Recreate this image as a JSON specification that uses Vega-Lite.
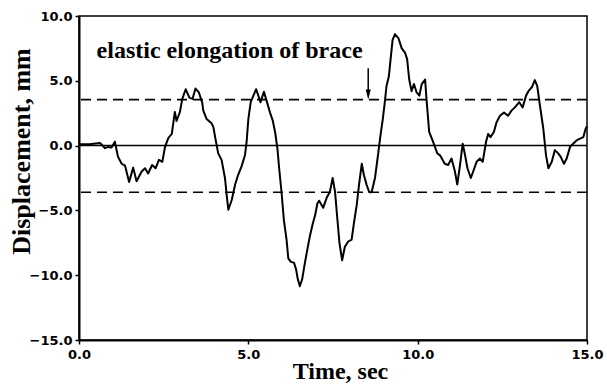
{
  "$schema": "https://vega.github.io/schema/vega-lite/v6.json",
  "width": 508,
  "height": 324,
  "autosize": {"type": "none"},
  "padding": {"left": 79, "top": 16, "right": 20, "bottom": 49},
  "background": "white",
  "config": {
    "view": {"stroke": "black", "strokeWidth": 1.5},
    "text": {"font": "Liberation Serif"},
    "axis": {
      "grid": false,
      "domainColor": "black",
      "domainWidth": 2,
      "tickColor": "black",
      "tickWidth": 1.5,
      "tickSize": 4,
      "labelFont": "DejaVu Sans",
      "labelFontWeight": "bold",
      "labelFontSize": 13,
      "labelColor": "black",
      "titleFont": "Liberation Serif",
      "titleFontWeight": "bold",
      "titleColor": "black"
    }
  },
  "layer": [
    {
      "data": {"values": [{"level": 0}]},
      "mark": {"type": "rule", "color": "black", "strokeWidth": 1.5},
      "encoding": {"y": {"field": "level", "type": "quantitative", "scale": {"domain": [-15, 10]}}}
    },
    {
      "data": {"values": [{"level": 3.55}, {"level": -3.6}]},
      "mark": {"type": "rule", "color": "black", "strokeWidth": 1.6, "strokeDash": [10, 6]},
      "encoding": {"y": {"field": "level", "type": "quantitative"}}
    },
    {
      "data": {"values": [
        {"t": 0, "v": 0.1}, {"t": 0.3, "v": 0.1}, {"t": 0.62, "v": 0.2}, {"t": 0.77, "v": -0.2}, {"t": 0.86, "v": -0.1}, {"t": 0.96, "v": -0.15}, {"t": 1.06, "v": 0.3}, {"t": 1.15, "v": -0.85}, {"t": 1.26, "v": -1.4}, {"t": 1.36, "v": -1.55}, {"t": 1.48, "v": -2.8}, {"t": 1.6, "v": -1.7}, {"t": 1.7, "v": -2.75}, {"t": 1.85, "v": -2.0}, {"t": 1.95, "v": -1.75}, {"t": 2.04, "v": -2.15}, {"t": 2.16, "v": -1.5}, {"t": 2.26, "v": -1.75}, {"t": 2.36, "v": -1.1}, {"t": 2.46, "v": -1.25}, {"t": 2.54, "v": -0.1}, {"t": 2.64, "v": 0.6}, {"t": 2.74, "v": 0.9}, {"t": 2.83, "v": 2.6}, {"t": 2.88, "v": 1.9}, {"t": 2.98, "v": 2.6}, {"t": 3.05, "v": 3.6}, {"t": 3.15, "v": 4.35}, {"t": 3.26, "v": 3.7}, {"t": 3.35, "v": 3.6}, {"t": 3.44, "v": 4.4}, {"t": 3.54, "v": 4.1}, {"t": 3.64, "v": 3.3},
        {"t": 3.67, "v": 2.7}, {"t": 3.77, "v": 2.05}, {"t": 3.92, "v": 1.7}, {"t": 3.97, "v": 1.4}, {"t": 4.02, "v": 0.65}, {"t": 4.11, "v": -0.6}, {"t": 4.21, "v": -1.1}, {"t": 4.31, "v": -2.5}, {"t": 4.36, "v": -3.8}, {"t": 4.41, "v": -4.95}, {"t": 4.51, "v": -4.2}, {"t": 4.61, "v": -3.0}, {"t": 4.7, "v": -2.25}, {"t": 4.8, "v": -1.6}, {"t": 4.9, "v": -0.75}, {"t": 4.95, "v": 0.3}, {"t": 5.0, "v": 2.05}, {"t": 5.07, "v": 3.35}, {"t": 5.15, "v": 3.85}, {"t": 5.23, "v": 4.35}, {"t": 5.36, "v": 3.35}, {"t": 5.46, "v": 4.15}, {"t": 5.54, "v": 3.45}, {"t": 5.64, "v": 2.55}, {"t": 5.72, "v": 1.95}, {"t": 5.79, "v": 1.05}, {"t": 5.86, "v": -0.25}, {"t": 5.91, "v": -1.75}, {"t": 5.98, "v": -3.6}, {"t": 6.05, "v": -5.75}, {"t": 6.13, "v": -7.3}, {"t": 6.18, "v": -8.7}, {"t": 6.25, "v": -8.95}, {"t": 6.35, "v": -9.05}, {"t": 6.41, "v": -9.55}, {"t": 6.46, "v": -10.3}, {"t": 6.52, "v": -10.85}, {"t": 6.59, "v": -10.3}, {"t": 6.67, "v": -9.05}, {"t": 6.74, "v": -8.05}, {"t": 6.82, "v": -6.95}, {"t": 6.9, "v": -6.05}, {"t": 6.97, "v": -5.4}, {"t": 7.04, "v": -4.45}, {"t": 7.09, "v": -4.25},
        {"t": 7.21, "v": -4.8}, {"t": 7.31, "v": -4.05}, {"t": 7.41, "v": -3.55}, {"t": 7.49, "v": -2.5}, {"t": 7.56, "v": -3.55}, {"t": 7.63, "v": -5.7}, {"t": 7.69, "v": -7.5}, {"t": 7.77, "v": -8.85}, {"t": 7.85, "v": -7.8}, {"t": 7.95, "v": -7.4}, {"t": 8.05, "v": -7.25}, {"t": 8.12, "v": -5.95}, {"t": 8.2, "v": -4.6}, {"t": 8.27, "v": -3.0}, {"t": 8.35, "v": -1.4}, {"t": 8.41, "v": -2.25}, {"t": 8.49, "v": -3.0}, {"t": 8.57, "v": -3.6}, {"t": 8.64, "v": -3.6}, {"t": 8.74, "v": -2.5}, {"t": 8.84, "v": -0.5}, {"t": 8.89, "v": 0.55}, {"t": 8.97, "v": 2.05}, {"t": 9.03, "v": 3.35}, {"t": 9.08, "v": 4.6}, {"t": 9.15, "v": 5.35}, {"t": 9.2, "v": 6.65}, {"t": 9.26, "v": 8.15}, {"t": 9.33, "v": 8.6}, {"t": 9.43, "v": 8.3}, {"t": 9.53, "v": 7.5}, {"t": 9.63, "v": 7.15}, {"t": 9.69, "v": 6.65}, {"t": 9.75, "v": 5.1}, {"t": 9.82, "v": 4.2}, {"t": 9.89, "v": 4.75}, {"t": 9.97, "v": 4.1}, {"t": 10.05, "v": 3.85}, {"t": 10.12, "v": 4.75}, {"t": 10.22, "v": 5.1}, {"t": 10.26, "v": 3.6}, {"t": 10.34, "v": 1.05}, {"t": 10.44, "v": 0.4}, {"t": 10.51, "v": -0.1}, {"t": 10.58, "v": -0.6}, {"t": 10.66, "v": -0.75},
        {"t": 10.8, "v": -1.4}, {"t": 10.9, "v": -1.5}, {"t": 11.0, "v": -1.0}, {"t": 11.1, "v": -2.0}, {"t": 11.17, "v": -3.0}, {"t": 11.25, "v": -1.5}, {"t": 11.33, "v": 0.15}, {"t": 11.4, "v": -0.75}, {"t": 11.47, "v": -1.75}, {"t": 11.57, "v": -2.5}, {"t": 11.64, "v": -2.0}, {"t": 11.74, "v": -1.25}, {"t": 11.84, "v": -1.0}, {"t": 11.92, "v": -1.25}, {"t": 12.02, "v": 0.3}, {"t": 12.08, "v": 0.9}, {"t": 12.15, "v": 0.65}, {"t": 12.25, "v": 1.05}, {"t": 12.33, "v": 1.8}, {"t": 12.43, "v": 2.3}, {"t": 12.55, "v": 2.55}, {"t": 12.67, "v": 2.3}, {"t": 12.77, "v": 2.7}, {"t": 12.87, "v": 2.95}, {"t": 13.0, "v": 3.35}, {"t": 13.1, "v": 2.95}, {"t": 13.2, "v": 3.85}, {"t": 13.27, "v": 4.2}, {"t": 13.37, "v": 4.5}, {"t": 13.46, "v": 5.05}, {"t": 13.53, "v": 4.6}, {"t": 13.61, "v": 3.1}, {"t": 13.71, "v": 1.3}, {"t": 13.79, "v": -0.75}, {"t": 13.86, "v": -1.75}, {"t": 13.96, "v": -1.25}, {"t": 14.05, "v": -0.35}, {"t": 14.15, "v": -0.6}, {"t": 14.22, "v": -0.85}, {"t": 14.32, "v": -1.4}, {"t": 14.4, "v": -1.0}, {"t": 14.5, "v": -0.1}, {"t": 14.59, "v": 0.15}, {"t": 14.69, "v": 0.4}, {"t": 14.81, "v": 0.55}, {"t": 14.89, "v": 0.65}, {"t": 14.96, "v": 1.3}, {"t": 15.0, "v": 1.5}
      ]},
      "mark": {"type": "line", "color": "black", "strokeWidth": 2, "strokeJoin": "round"},
      "encoding": {
        "x": {
          "field": "t", "type": "quantitative",
          "scale": {"domain": [0, 15], "nice": false},
          "axis": {"values": [0, 5, 10, 15], "format": ".1f", "labelFlush": false, "labelPadding": 4,
                   "title": "Time, sec", "titleFontSize": 24, "titleX": 261, "titleY": 38, "titleBaseline": "alphabetic", "titleAnchor": "middle", "titleAlign": "center"}
        },
        "y": {
          "field": "v", "type": "quantitative",
          "scale": {"domain": [-15, 10], "nice": false},
          "axis": {"values": [-15, -10, -5, 0, 5, 10], "format": ".1f", "labelPadding": 3,
                   "title": "Displacement, mm", "titleFontSize": 26, "titleX": -50, "titleY": 135, "titleBaseline": "alphabetic", "titleAngle": -90, "titleAlign": "center"}
        }
      }
    },
    {
      "data": {"values": [{"t": 8.54, "top": 5.96, "bottom": 4.0}]},
      "mark": {"type": "rule", "color": "black", "strokeWidth": 1.5},
      "encoding": {"x": {"field": "t", "type": "quantitative"}, "y": {"field": "top", "type": "quantitative"}, "y2": {"field": "bottom"}}
    },
    {
      "data": {"values": [{"t": 8.54, "v": 3.55}]},
      "mark": {"type": "point", "filled": true, "color": "black", "opacity": 1, "size": 400, "shape": "M-0.25,-1L0.25,-1L0,0Z"},
      "encoding": {"x": {"field": "t", "type": "quantitative"}, "y": {"field": "v", "type": "quantitative"}}
    },
    {
      "data": {"values": [{"t": 0.52, "v": 6.74, "label": "elastic elongation of brace"}]},
      "mark": {"type": "text", "font": "Liberation Serif", "fontWeight": "bold", "fontSize": 24, "align": "left", "baseline": "alphabetic", "color": "black"},
      "encoding": {"x": {"field": "t", "type": "quantitative"}, "y": {"field": "v", "type": "quantitative"}, "text": {"field": "label"}}
    }
  ]
}
